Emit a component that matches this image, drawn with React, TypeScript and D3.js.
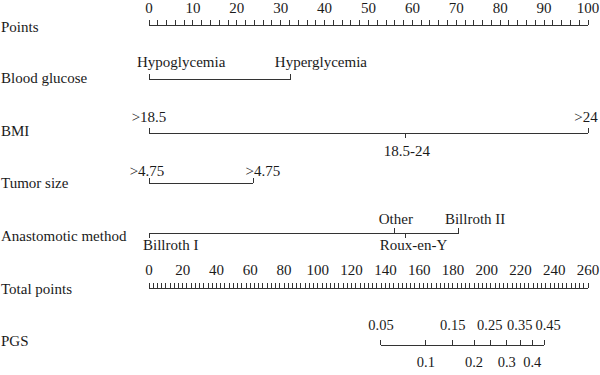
import React from "react";
import * as d3 from "d3";

// ---- data ----
const pointsTickLabels = [0, 10, 20, 30, 40, 50, 60, 70, 80, 90, 100];
const pointsMinorStep = 2;

const glucoseLevels = ["Hypoglycemia", "Hyperglycemia"];
const glucosePoints = [0, 32.3];

const bmiLevels = [">18.5", "18.5-24", ">24"];
const bmiPoints = [0, 58.5, 100];

const tumorLevels = [">4.75", ">4.75"];
const tumorPoints = [0, 23.8];

const anastLevels = ["Billroth I", "Other", "Roux-en-Y", "Billroth II"];
const anastPoints = [0, 56, 58.5, 70.6];

const totalTickLabels = [0, 20, 40, 60, 80, 100, 120, 140, 160, 180, 200, 220, 240, 260];
const totalMinorStep = 2.5;

const pgsLabels = ["0.05", "0.1", "0.15", "0.2", "0.25", "0.3", "0.35", "0.4", "0.45"];
const pgsTotalPoints = [137.4, 164, 179.9, 192.5, 202.4, 211.9, 220.2, 227, 234];

const rowNames = ["Points", "Blood glucose", "BMI", "Tumor size", "Anastomotic method", "Total points", "PGS"];

// ---- layout ----
const W = 600;
const H = 375;
const X0 = 149;
const X1 = 588;
const FONT = "'Liberation Serif', 'Times New Roman', serif";
const FS = 15;
const STROKE = "#333";
const TEXT = "#1a1a1a";
const TICK = 5;
const pgsLabelDx = [0, 0, 0, 0, -1, 0, -1, 0, 4];

type LabelLayout = { side: "up" | "down"; anchor: "start" | "middle" | "end"; dx: number; tickDir: "up" | "down" };

export default function App() {
  const xPts = d3.scaleLinear().domain([0, 100]).range([X0, X1]);
  const xTot = d3.scaleLinear().domain([0, 260]).range([X0, X1]);

  const rowY = [25, 79, 133, 183, 233, 288, 345];
  const rowLabelY = [32, 83, 136, 188, 241, 294, 346];

  const elems: React.ReactNode[] = [];

  rowNames.forEach((n, i) => {
    elems.push(
      <text key={"rn" + i} x={1} y={rowLabelY[i]} fontSize={FS}>
        {n}
      </text>
    );
  });

  // Points axis
  const yP = rowY[0];
  elems.push(<line key="pl" x1={xPts(0)} x2={xPts(100)} y1={yP} y2={yP} stroke={STROKE} />);
  d3.range(0, 100 + 1e-9, pointsMinorStep).forEach((v, i) => {
    elems.push(<line key={"pt" + i} x1={xPts(v)} x2={xPts(v)} y1={yP} y2={yP - TICK} stroke={STROKE} />);
  });
  pointsTickLabels.forEach((v, i) => {
    elems.push(
      <text key={"ptl" + i} x={xPts(v)} y={13} textAnchor="middle" fontSize={FS}>
        {v}
      </text>
    );
  });

  // Categorical variable axes
  const drawVar = (
    key: string,
    levels: string[],
    pts: number[],
    y: number,
    layouts: LabelLayout[],
    upY: number,
    downY: number
  ) => {
    const ext = d3.extent(pts) as [number, number];
    elems.push(<line key={key + "l"} x1={xPts(ext[0])} x2={xPts(ext[1])} y1={y} y2={y} stroke={STROKE} />);
    levels.forEach((lab, i) => {
      const x = xPts(pts[i]);
      const L = layouts[i];
      elems.push(
        <line
          key={key + "t" + i}
          x1={x}
          x2={x}
          y1={y}
          y2={L.tickDir === "up" ? y - TICK : y + TICK}
          stroke={STROKE}
        />
      );
      elems.push(
        <text key={key + "x" + i} x={x + L.dx} y={L.side === "up" ? upY : downY} textAnchor={L.anchor} fontSize={FS}>
          {lab}
        </text>
      );
    });
  };

  drawVar(
    "g",
    glucoseLevels,
    glucosePoints,
    rowY[1],
    [
      { side: "up", anchor: "start", dx: -12, tickDir: "up" },
      { side: "up", anchor: "start", dx: -16, tickDir: "up" },
    ],
    67,
    0
  );
  drawVar(
    "b",
    bmiLevels,
    bmiPoints,
    rowY[2],
    [
      { side: "up", anchor: "middle", dx: 0, tickDir: "up" },
      { side: "down", anchor: "middle", dx: 1, tickDir: "down" },
      { side: "up", anchor: "middle", dx: -2, tickDir: "up" },
    ],
    122,
    156
  );
  drawVar(
    "t",
    tumorLevels,
    tumorPoints,
    rowY[3],
    [
      { side: "up", anchor: "middle", dx: -2, tickDir: "up" },
      { side: "up", anchor: "start", dx: -8, tickDir: "up" },
    ],
    176,
    0
  );
  drawVar(
    "a",
    anastLevels,
    anastPoints,
    rowY[4],
    [
      { side: "down", anchor: "start", dx: -6, tickDir: "down" },
      { side: "up", anchor: "middle", dx: 1, tickDir: "up" },
      { side: "down", anchor: "start", dx: -26, tickDir: "down" },
      { side: "up", anchor: "start", dx: -14, tickDir: "up" },
    ],
    224,
    250
  );

  // Total points axis
  const yT = rowY[5];
  elems.push(<line key="tl" x1={xTot(0)} x2={xTot(260)} y1={yT} y2={yT} stroke={STROKE} />);
  d3.range(0, 260 + 1e-9, totalMinorStep).forEach((v, i) => {
    elems.push(<line key={"tt" + i} x1={xTot(v)} x2={xTot(v)} y1={yT} y2={yT - TICK} stroke={STROKE} />);
  });
  totalTickLabels.forEach((v, i) => {
    elems.push(
      <text key={"ttl" + i} x={xTot(v)} y={275} textAnchor="middle" fontSize={FS}>
        {v}
      </text>
    );
  });

  // PGS axis
  const yG = rowY[6];
  const pExt = d3.extent(pgsTotalPoints) as [number, number];
  elems.push(<line key="gl" x1={xTot(pExt[0])} x2={xTot(pExt[1])} y1={yG} y2={yG} stroke={STROKE} />);
  pgsLabels.forEach((lab, i) => {
    const x = xTot(pgsTotalPoints[i]);
    elems.push(<line key={"gt" + i} x1={x} x2={x} y1={yG} y2={yG - TICK} stroke={STROKE} />);
    elems.push(
      <text
        key={"gx" + i}
        x={x + pgsLabelDx[i]}
        y={i % 2 === 0 ? 330 : 367}
        textAnchor="middle"
        fontSize={14.5}
      >
        {lab}
      </text>
    );
  });

  return (
    <div style={{ position: "absolute", left: 0, top: 0 }}>
      <svg width={W} height={H} style={{ display: "block", background: "#fff" }} fontFamily={FONT} fill={TEXT}>
        <g shapeRendering="crispEdges">{elems}</g>
      </svg>
    </div>
  );
}
